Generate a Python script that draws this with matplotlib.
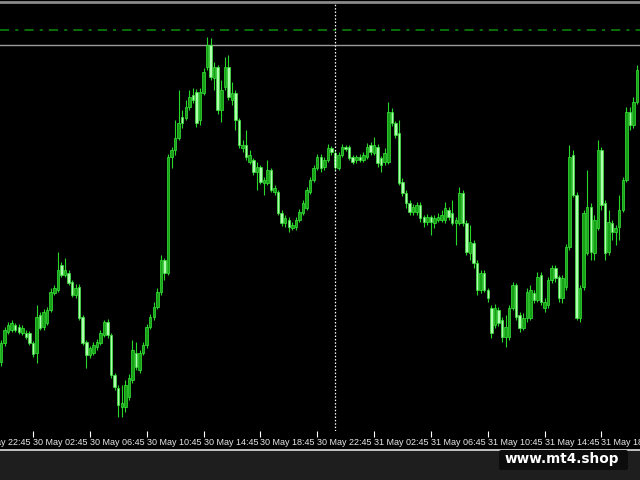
import matplotlib.pyplot as plt
from matplotlib.patches import Rectangle, FancyBboxPatch
from matplotlib.lines import Line2D

# M15 candles, price in chart points (index 0 = 30 May 00:30)
opens = [78, 97, 108, 110, 115, 113, 107, 107, 107, 97,
         87, 125, 113, 117, 130, 147, 150, 175, 165, 167,
         158, 145, 153, 123, 98, 85, 87, 93, 97, 105,
         118, 105, 65, 52, 33, 33, 43, 60, 87, 70,
         87, 95, 113, 123, 133, 148, 180, 167, 283, 290,
         302, 323, 322, 333, 345, 348, 320, 347, 373, 395,
         362, 373, 330, 353, 373, 340, 347, 320, 292, 295,
         278, 280, 268, 273, 257, 257, 270, 248, 248, 227,
         217, 220, 212, 213, 220, 227, 232, 248, 260, 272,
         283, 273, 280, 292, 287, 272, 285, 293, 293, 283,
         280, 283, 280, 283, 295, 287, 293, 282, 278, 278,
         328, 317, 307, 258, 247, 237, 228, 228, 235, 223,
         218, 223, 217, 220, 220, 220, 230, 227, 217, 217,
         247, 217, 187, 197, 177, 150, 167, 150, 132, 115,
         130, 120, 103, 103, 132, 155, 125, 112, 122, 122,
         147, 140, 165, 132, 135, 160, 172, 163, 142, 153,
         193, 285, 245, 122, 153, 187, 233, 187, 212, 290,
         237, 188, 217, 208, 213, 230, 260, 328, 315, 338]
closes = [97, 110, 115, 117, 110, 108, 112, 103, 97, 86,
          123, 112, 128, 130, 148, 152, 170, 165, 170, 157,
          145, 152, 122, 97, 85, 92, 95, 98, 107, 118,
          105, 65, 53, 35, 37, 55, 62, 90, 73, 87,
          95, 113, 123, 133, 148, 180, 167, 283, 290, 302,
          317, 317, 333, 343, 340, 317, 348, 368, 395, 363,
          373, 330, 350, 373, 343, 347, 320, 295, 295, 283,
          285, 268, 273, 258, 260, 270, 250, 252, 227, 217,
          222, 213, 215, 220, 228, 237, 250, 260, 272, 283,
          272, 280, 292, 288, 273, 285, 293, 291, 282, 278,
          283, 280, 285, 293, 288, 295, 277, 275, 287, 328,
          317, 305, 257, 247, 237, 228, 233, 235, 222, 218,
          223, 218, 222, 223, 225, 232, 223, 217, 220, 247,
          217, 188, 198, 177, 150, 167, 150, 142, 107, 132,
          117, 103, 113, 132, 155, 123, 112, 122, 148, 150,
          140, 163, 138, 138, 160, 172, 162, 142, 162, 193,
          283, 245, 122, 152, 227, 233, 188, 220, 290, 235,
          187, 218, 208, 212, 230, 260, 328, 315, 338, 370]
highs = [100, 113, 118, 120, 117, 116, 115, 110, 109, 99,
         135, 128, 131, 133, 152, 155, 188, 178, 182, 170,
         160, 156, 156, 125, 100, 94, 98, 101, 110, 120,
         121, 107, 67, 55, 55, 60, 66, 100, 98, 90,
         98, 116, 126, 138, 152, 185, 182, 286, 293, 320,
         350, 330, 340, 350, 352, 351, 352, 372, 403, 402,
         378, 375, 360, 383, 385, 358, 350, 322, 300, 310,
         290, 282, 278, 275, 263, 280, 272, 255, 250, 230,
         225, 223, 218, 223, 231, 240, 253, 263, 275, 286,
         286, 283, 296, 294, 290, 288, 296, 295, 295, 285,
         285, 286, 288, 297, 298, 303, 296, 284, 292, 338,
         332, 319, 320, 262, 250, 240, 236, 238, 238, 225,
         226, 225, 225, 227, 230, 238, 233, 240, 223, 253,
         250, 220, 215, 200, 180, 170, 170, 152, 135, 136,
         133, 123, 125, 135, 158, 157, 128, 127, 152, 155,
         150, 168, 168, 142, 163, 175, 175, 165, 165, 196,
         295, 290, 248, 155, 230, 270, 237, 225, 300, 293,
         240, 230, 220, 215, 245, 263, 333, 333, 343, 375]
lows = [74, 94, 106, 108, 108, 106, 105, 101, 95, 83,
        77, 110, 110, 115, 128, 145, 148, 163, 163, 155,
        143, 142, 120, 95, 72, 82, 85, 90, 95, 103,
        102, 62, 50, 23, 23, 28, 40, 57, 70, 67,
        85, 92, 111, 120, 131, 145, 160, 165, 272, 285,
        300, 312, 320, 330, 337, 313, 315, 345, 370, 360,
        350, 326, 318, 350, 340, 335, 310, 292, 288, 280,
        276, 265, 250, 256, 245, 255, 248, 245, 225, 214,
        213, 208, 210, 210, 218, 225, 230, 246, 258, 270,
        268, 270, 278, 285, 270, 270, 283, 289, 280, 276,
        277, 278, 278, 281, 285, 285, 273, 268, 275, 276,
        314, 302, 255, 244, 232, 225, 225, 225, 218, 213,
        215, 205, 212, 218, 218, 217, 220, 215, 195, 215,
        214, 185, 180, 172, 145, 147, 148, 138, 102, 112,
        114, 98, 93, 100, 130, 120, 108, 110, 118, 120,
        137, 138, 135, 128, 132, 157, 158, 138, 137, 150,
        190, 243, 120, 118, 150, 185, 180, 180, 210, 230,
        180, 185, 200, 195, 200, 228, 258, 310, 312, 336]

tick_bars = [-7, 9, 25, 41, 57, 73, 89, 105, 121, 137, 153, 169]
tick_labels = ['29 May 22:45', '30 May 02:45', '30 May 06:45', '30 May 10:45',
               '30 May 14:45', '30 May 18:45', '30 May 22:45', '31 May 02:45',
               '31 May 06:45', '31 May 10:45', '31 May 14:45', '31 May 18:45']
level_top = 410      # dash-dot green line
level_gray = 395     # gray horizontal line
cursor_bar = 94      # dotted vertical line

fig = plt.figure(figsize=(6.4, 4.8), dpi=100, facecolor='black')
ax = fig.add_axes([0, 49 / 480, 1, 427 / 480])
ax.set_facecolor('black')

xs = list(range(len(opens)))
up = [c >= o for o, c in zip(opens, closes)]
ax.vlines(xs, lows, highs, color='#28d828', lw=0.8, zorder=2)
for i in xs:
    lo, hi = min(opens[i], closes[i]), max(opens[i], closes[i])
    face = '#16a016' if up[i] else '#b0ffb0'
    ax.bar(i, max(hi - lo, 1), bottom=lo, width=0.7, color=face,
           edgecolor='#3ae83a', linewidth=0.5, zorder=3)

ax.axhline(level_top, color='#0b8f0b', lw=1.1, linestyle=(0, (6, 4, 2, 4)), zorder=1)
ax.axhline(level_gray, color='#9a9a9a', lw=1.0, zorder=1)
ax.axvline(cursor_bar, color='white', lw=0.9, linestyle=(0, (1.2, 1.5)), zorder=4)

ax.set_yticks([])
for s in ax.spines.values():
    s.set_visible(False)
ax.set_xticks(tick_bars[1:])
ax.set_xticklabels(tick_labels[1:], ha='left', fontsize=6.5,
                   family=['Liberation Sans', 'DejaVu Sans'], color='#e8e8e8')
ax.tick_params(axis='x', direction='out', length=4, width=0.8, color='white', pad=1)
ax.set_xlim(-0.28, 179.85)
ax.set_ylim(9, 436)

# the first label sits left of the visible window, only its tail shows
ax.annotate(tick_labels[0], xy=(tick_bars[0], 0), xycoords=ax.get_xaxis_transform(),
            xytext=(0, -5), textcoords='offset points', ha='left', va='top',
            fontsize=6.5, family=['Liberation Sans', 'DejaVu Sans'], color='#e8e8e8',
            annotation_clip=False)

# frame pieces of the terminal window
fig.patches.append(Rectangle((0, 0), 1, 30 / 480, transform=fig.transFigure,
                             color='#1e1e1e', zorder=0))
fig.lines.append(Line2D([0, 1], [30.5 / 480, 30.5 / 480], transform=fig.transFigure,
                        color='#e0e0e0', lw=1.2))
fig.lines.append(Line2D([0, 1], [478.5 / 480, 478.5 / 480], transform=fig.transFigure,
                        color='#8a8a8a', lw=2))

fig.patches.append(FancyBboxPatch((499 / 640, 10 / 480), 129 / 640, 20 / 480,
                                  boxstyle='round,pad=0,rounding_size=0.004',
                                  transform=fig.transFigure, facecolor='#0c0c0c',
                                  edgecolor='none', zorder=5))
fig.text(562 / 640, 21 / 480, 'www.mt4.shop', color='white', fontsize=9.8,
         fontweight='bold', ha='center', va='center', zorder=6)

fig.savefig('out.png', dpi=100, facecolor=fig.get_facecolor())
